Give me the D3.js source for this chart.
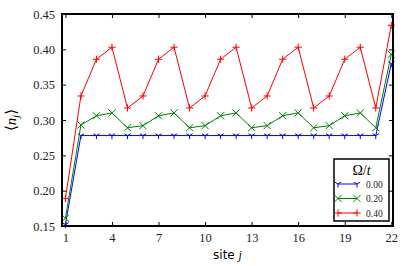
<!DOCTYPE html>
<html>
<head>
<meta charset="utf-8">
<script src="https://cdn.jsdelivr.net/npm/d3@7"></script>
<style>
body { margin: 0; background: #fff; }
svg text { font-family: "Liberation Serif", "DejaVu Serif", serif; }
</style>
</head>
<body>
<script>
var svgWidth = 415, svgHeight = 266;
var margin = {top: 14, right: 22, bottom: 40, left: 62},
    width = svgWidth - margin.left - margin.right,
    height = svgHeight - margin.top - margin.bottom;

var sites = d3.range(1, 23);
var xTicks = [1, 4, 7, 10, 13, 16, 19, 22];
var yTicks = [0.15, 0.20, 0.25, 0.30, 0.35, 0.40, 0.45];
var omegaLabels = ["0.00", "0.20", "0.40"];

var n000 = [0.152, 0.278, 0.278, 0.278, 0.278, 0.278, 0.278, 0.278, 0.278, 0.278, 0.278,
            0.278, 0.278, 0.278, 0.278, 0.278, 0.278, 0.278, 0.278, 0.278, 0.278, 0.380];
var n020 = [0.161, 0.293, 0.306, 0.310, 0.289, 0.292, 0.306, 0.310, 0.289, 0.292, 0.306,
            0.310, 0.289, 0.292, 0.306, 0.310, 0.289, 0.292, 0.306, 0.310, 0.289, 0.393];
var n040 = [0.189, 0.334, 0.386, 0.403, 0.317, 0.334, 0.386, 0.403, 0.317, 0.334, 0.386,
            0.403, 0.317, 0.334, 0.386, 0.403, 0.317, 0.334, 0.386, 0.403, 0.317, 0.434];

var series = [
  {label: omegaLabels[0], values: n000, color: "#0000ff", marker: "tri"},
  {label: omegaLabels[1], values: n020, color: "#008000", marker: "x"},
  {label: omegaLabels[2], values: n040, color: "#ff0000", marker: "plus"}
];

var svg = d3.select("body").append("svg").attr("width", svgWidth).attr("height", svgHeight);
var chartGroup = svg.append("g").attr("transform", `translate(${margin.left},${margin.top})`);

var xScale = d3.scaleLinear().domain([0.78, 22.11]).range([0, width]);
var yScale = d3.scaleLinear().domain([0.15, 0.45]).range([height, 0]);

// ticks point inward on all four sides
function tickMarks(axis) {
  return axis.tickSizeInner(-4).tickSizeOuter(0).tickPadding(7);
}
var xAxis = chartGroup.append("g").attr("transform", "translate(0," + height + ")")
  .call(tickMarks(d3.axisBottom(xScale).tickValues(xTicks).tickFormat(d3.format("d"))));
var xTop = chartGroup.append("g")
  .call(tickMarks(d3.axisTop(xScale).tickValues(xTicks)).tickFormat(""));
var yAxis = chartGroup.append("g")
  .call(tickMarks(d3.axisLeft(yScale).tickValues(yTicks).tickFormat(d3.format(".2f"))));
var yRight = chartGroup.append("g").attr("transform", "translate(" + width + ",0)")
  .call(tickMarks(d3.axisRight(yScale).tickValues(yTicks)).tickFormat(""));

[xAxis, xTop, yAxis, yRight].forEach(function(g) {
  g.select(".domain").remove();
  g.selectAll(".tick line").attr("stroke", "#000").attr("stroke-width", 1);
  g.selectAll(".tick text").attr("font-size", "12.5px").attr("fill", "#222")
    .style("font-family", "'Liberation Serif', serif");
});

var line = d3.line().x(function(d, i) { return xScale(sites[i]); }).y(function(d) { return yScale(d); });

function drawMarker(g, type, color) {
  var s = 3.6;
  if (type === "plus") {
    g.append("path").attr("d", `M${-s},0H${s}M0,${-s}V${s}`);
  } else if (type === "x") {
    g.append("path").attr("d", `M${-s},${-s}L${s},${s}M${-s},${s}L${s},${-s}`);
  } else {
    g.append("path").attr("d", `M0,0V${s}M0,0L${-s*0.87},${-s*0.5}M0,0L${s*0.87},${-s*0.5}`);
  }
  g.selectAll("path").attr("fill", "none").attr("stroke", color).attr("stroke-width", 1);
}

series.forEach(function(s) {
  chartGroup.append("path")
    .datum(s.values)
    .attr("fill", "none")
    .attr("stroke", s.color)
    .attr("stroke-width", 1)
    .attr("d", line);
  chartGroup.selectAll(null)
    .data(s.values)
    .enter().append("g")
    .attr("transform", function(d, i) { return "translate(" + xScale(sites[i]) + "," + yScale(d) + ")"; })
    .each(function() { drawMarker(d3.select(this), s.marker, s.color); });
});

// frame
chartGroup.append("rect")
  .attr("width", width).attr("height", height)
  .attr("fill", "none").attr("stroke", "#000").attr("stroke-width", 2);

// axis labels
svg.append("text")
  .attr("x", margin.left + width / 2).attr("y", 259)
  .attr("text-anchor", "middle")
  .attr("font-size", "12px")
  .style("font-family", "'DejaVu Sans', sans-serif")
  .html('site <tspan font-style="italic" style="font-family:\'Liberation Serif\'">j</tspan>');

svg.append("text")
  .attr("text-anchor", "middle")
  .attr("transform", "translate(16," + (margin.top + height / 2) + ")rotate(-90)")
  .attr("font-size", "15px")
  .html('⟨<tspan font-style="italic">n</tspan><tspan font-style="italic" font-size="10px" dy="3">j</tspan><tspan dy="-3">⟩</tspan>');

// legend
var legend = svg.append("g").attr("transform", "translate(334,159)");
legend.append("rect").attr("width", 55).attr("height", 62)
  .attr("fill", "#fff").attr("stroke", "#000").attr("stroke-width", 1.5);
legend.append("text").attr("x", 27.5).attr("y", 16).attr("text-anchor", "middle")
  .attr("font-size", "14px")
  .html('Ω/<tspan font-style="italic">t</tspan>');
series.forEach(function(s, i) {
  var row = legend.append("g").attr("transform", "translate(0," + (25 + i * 14.5) + ")");
  row.append("line").attr("x1", 4).attr("x2", 23).attr("stroke", s.color).attr("stroke-width", 1);
  [4, 23].forEach(function(x) {
    drawMarker(row.append("g").attr("transform", "translate(" + x + ",0)"), s.marker, s.color);
  });
  row.append("text").attr("x", 32).attr("y", 3.5).attr("font-size", "9.5px").attr("fill", "#222").text(s.label);
});
</script>
</body>
</html>
